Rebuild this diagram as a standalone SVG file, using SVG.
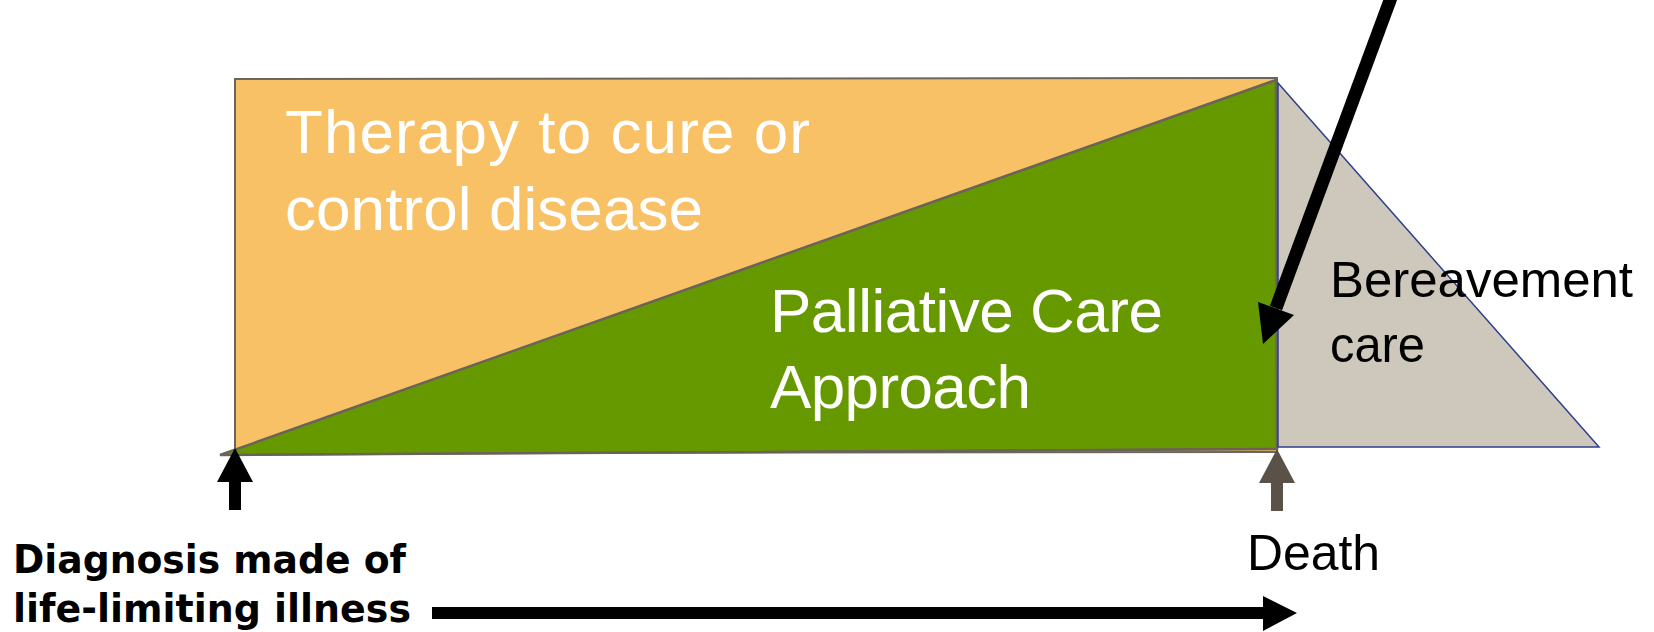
<svg xmlns="http://www.w3.org/2000/svg" width="1654" height="632" viewBox="0 0 1654 632">
<style>
.wt{font-family:"Liberation Sans",Arial,sans-serif;font-size:62px;fill:#ffffff}
.bk{font-family:"Liberation Sans",Arial,sans-serif;font-size:50px;fill:#000000}
.bd{font-family:"DejaVu Sans","Liberation Sans",sans-serif;font-size:39px;font-weight:bold;fill:#000000}
</style>
<rect width="1654" height="632" fill="#ffffff"/>
<g id="therapy">
<polygon points="235,79 1277,78 1277,452 235,453" fill="#F8C165" stroke="#6b655e" stroke-width="2"/>
<text class="wt" x="285" y="153" textLength="525" lengthAdjust="spacing">Therapy to cure or</text>
<text class="wt" x="285" y="230" textLength="418" lengthAdjust="spacing">control disease</text>
</g>
<g id="palliative">
<polygon points="220,455 1276,80 1277,449" fill="#669900" stroke="#6b6259" stroke-width="2.5" stroke-linejoin="miter"/>
<line x1="220" y1="455" x2="1277" y2="449" stroke="#6b6259" stroke-width="2"/>
<text class="wt" x="770" y="332" textLength="393" lengthAdjust="spacing">Palliative Care</text>
<text class="wt" x="770" y="408" textLength="261" lengthAdjust="spacing">Approach</text>
</g>
<g id="bereavement">
<polygon points="1278,83 1599,447 1278,447" fill="#CDC8BB" stroke="#2e3f8c" stroke-width="1.5"/>
<text class="bk" x="1330" y="297" textLength="303" lengthAdjust="spacingAndGlyphs">Bereavement</text>
<text class="bk" x="1330" y="362" textLength="95" lengthAdjust="spacingAndGlyphs">care</text>
</g>
<g id="diagnosis">
<text class="bd" x="13" y="573" textLength="393" lengthAdjust="spacingAndGlyphs">Diagnosis made of</text>
<text class="bd" x="13" y="622" textLength="398" lengthAdjust="spacingAndGlyphs">life-limiting illness</text>
</g>
<g id="death">
<text class="bk" x="1247" y="570" textLength="133" lengthAdjust="spacingAndGlyphs">Death</text>
</g>
<g id="connectors">
<polygon points="235,448 253,482 241,482 241,510 229,510 229,482 217,482" fill="#000000"/>
<polygon points="1277,449 1295,483 1283,483 1283,511 1271,511 1271,483 1259,483" fill="#5a5248"/>
<polygon points="432,607 1263,607 1263,596 1297,613 1263,631 1263,619 432,619" fill="#000000"/>
<line x1="1392" y1="-5" x2="1276" y2="308" stroke="#000000" stroke-width="13"/>
<polygon points="1263,344 1258,302 1294,315" fill="#000000"/>
</g>
</svg>
